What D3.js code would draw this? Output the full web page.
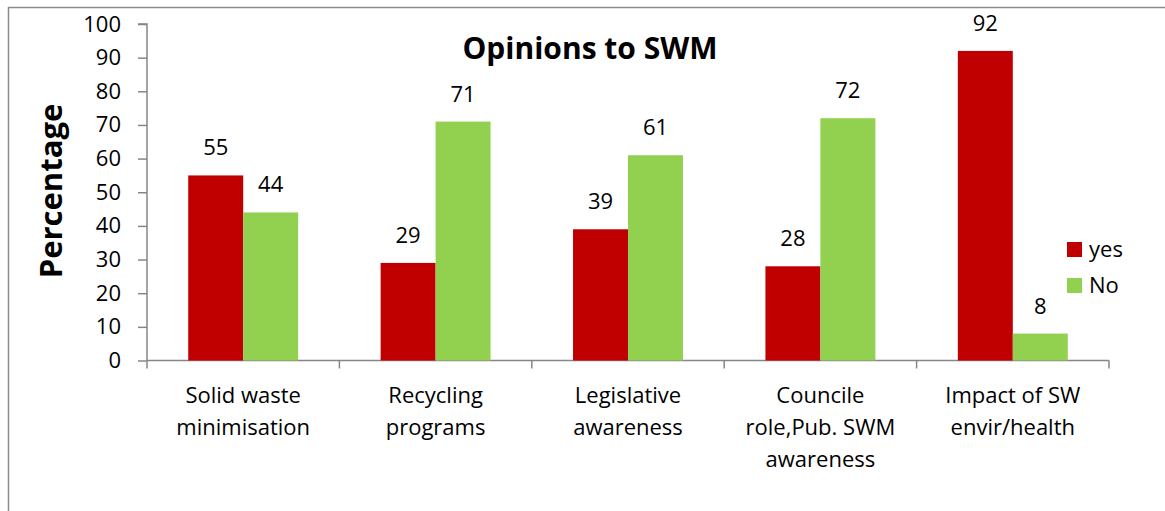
<!DOCTYPE html>
<html>
<head>
<meta charset="utf-8">
<script src="https://cdn.jsdelivr.net/npm/d3@7"></script>
<style>
  body { margin: 0; background: #fff; }
  svg text { font-family: "Open Sans", "Liberation Sans", sans-serif; fill: #000; }
</style>
</head>
<body>
<div id="chart"></div>
<script>
(function(){

var width = 1165,
	height = 511;

// data
var categories = [
	["Solid waste", "minimisation"],
	["Recycling", "programs"],
	["Legislative", "awareness"],
	["Councile", "role,Pub. SWM", "awareness"],
	["Impact of SW", "envir/health"]
];
var seriesNames = ["yes", "No"];
var yesValues = [55, 29, 39, 28, 92];
var noValues = [44, 71, 61, 72, 8];
var yTicks = [0, 10, 20, 30, 40, 50, 60, 70, 80, 90, 100];
var colors = ["#C00000", "#92D050"];

var rows = categories.map(function(c, i){
	return { name: i, label: c, values: [yesValues[i], noValues[i]] };
});

var svg = d3.select("#chart")
	.append("svg")
	.attr("width", width)
	.attr("height", height);

// outer chart border
svg.append("rect")
	.attr("x", 8.5)
	.attr("y", 7.5)
	.attr("width", 1170)
	.attr("height", 520)
	.attr("fill", "none")
	.attr("stroke", "#8c8c8c")
	.attr("stroke-width", 1.5);

var x0 = d3.scaleBand()
	.domain(rows.map(function(d){ return d.name; }))
	.range([147, 1109])
	.padding(0);

var x1 = d3.scaleBand()
	.domain([0, 1])
	.range([0, x0.bandwidth()])
	.paddingInner(0)
	.paddingOuter(0.75);

var y = d3.scaleLinear()
	.domain([0, 100])
	.range([360.5, 24]);

// y axis
var yAxis = svg.append("g")
	.attr("transform", "translate(147,0)")
	.call(d3.axisLeft(y).tickValues(yTicks).tickSize(9).tickPadding(17));
yAxis.select(".domain").attr("stroke", "#868686").attr("stroke-width", 1.5)
	.attr("d", "M-9," + y(100) + "H0V" + y(0));
yAxis.selectAll(".tick line").attr("stroke", "#868686").attr("stroke-width", 1.5);
yAxis.selectAll(".tick text")
	.style("font-size", "22px")
	.attr("fill", "#000");

// x axis line and ticks
var xTickPos = x0.domain().map(function(d){ return x0(d); }).concat([1109]);
svg.append("line")
	.attr("x1", 147).attr("x2", 1109)
	.attr("y1", y(0)).attr("y2", y(0))
	.attr("stroke", "#868686").attr("stroke-width", 1.5);
svg.selectAll(".xtick")
	.data(xTickPos)
	.enter()
	.append("line")
	.attr("class", "xtick")
	.attr("x1", function(d){ return d; })
	.attr("x2", function(d){ return d; })
	.attr("y1", y(0))
	.attr("y2", y(0) + 8)
	.attr("stroke", "#868686").attr("stroke-width", 1.5);

// bars
var group = svg.selectAll(".grp")
	.data(rows)
	.enter()
	.append("g")
	.attr("class", "grp")
	.attr("transform", function(d){ return "translate(" + x0(d.name) + ",0)"; });

group.selectAll("rect")
	.data(function(d){ return d.values; })
	.enter()
	.append("rect")
	.attr("x", function(d, i){ return x1(i); })
	.attr("y", function(d){ return y(d); })
	.attr("width", x1.bandwidth())
	.attr("height", function(d){ return y(0) - y(d); })
	.attr("fill", function(d, i){ return colors[i]; });

group.selectAll(".val")
	.data(function(d){ return d.values; })
	.enter()
	.append("text")
	.attr("class", "val")
	.attr("x", function(d, i){ return x1(i) + x1.bandwidth() / 2; })
	.attr("y", function(d){ return y(d) - 20; })
	.attr("text-anchor", "middle")
	.style("font-size", "22px")
	.text(function(d){ return d; });

// category labels
var cat = svg.selectAll(".cat")
	.data(rows)
	.enter()
	.append("text")
	.attr("class", "cat")
	.attr("text-anchor", "middle")
	.style("font-size", "22px");
cat.selectAll("tspan")
	.data(function(d){ return d.label.map(function(l){ return { l: l, x: x0(d.name) + x0.bandwidth() / 2 }; }); })
	.enter()
	.append("tspan")
	.attr("x", function(d){ return d.x; })
	.attr("y", function(d, i){ return 403 + i * 32; })
	.text(function(d){ return d.l; });

// title
svg.append("text")
	.attr("x", 590)
	.attr("y", 59)
	.attr("text-anchor", "middle")
	.style("font-size", "30px")
	.style("font-weight", "bold")
	.text("Opinions to SWM");

// y label
svg.append("text")
	.attr("transform", "translate(62,191) rotate(-90)")
	.attr("text-anchor", "middle")
	.style("font-size", "31px")
	.style("font-weight", "bold")
	.text("Percentage");

// legend
var legend = svg.selectAll(".leg")
	.data(seriesNames)
	.enter()
	.append("g")
	.attr("class", "leg")
	.attr("transform", function(d, i){ return "translate(1067," + (242 + i * 36) + ")"; });
legend.append("rect")
	.attr("width", 15)
	.attr("height", 15)
	.attr("fill", function(d, i){ return colors[i]; });
legend.append("text")
	.attr("x", 22)
	.attr("y", 15)
	.style("font-size", "22px")
	.text(function(d){ return d; });

})();
</script>
</body>
</html>
